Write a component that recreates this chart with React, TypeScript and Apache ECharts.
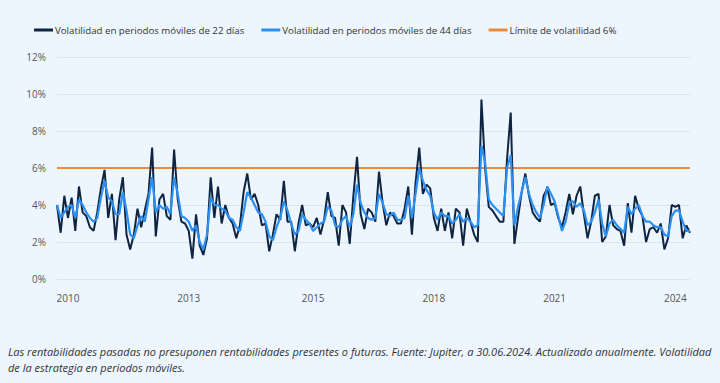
import React, { useEffect, useRef } from "react";
import * as echarts from "echarts";

const START_YEAR = 2010;
const MONTHS = 174; // Jan 2010 .. Jun 2024
const categories: string[] = [];
for (let k = 0; k < MONTHS; k++) {
  const y = START_YEAR + Math.floor(k / 12);
  const m = (k % 12) + 1;
  categories.push(`${y}-${m < 10 ? "0" + m : m}`);
}

const labelIndices = [3, 36, 70, 103, 136, 169];

const vol22 = [
  4.0, 2.5, 4.5, 3.3, 4.4, 2.6, 5.0, 3.6, 3.4, 2.8,
  2.6, 3.6, 4.9, 5.9, 3.3, 4.6, 2.1, 4.3, 5.5, 2.4,
  1.6, 2.4, 3.8, 2.8, 3.7, 4.6, 7.1, 2.3, 4.3, 4.6,
  3.4, 3.2, 7.0, 4.3, 3.1, 3.0, 2.6, 1.1, 3.5, 1.8,
  1.3, 2.2, 5.5, 3.3, 5.0, 3.0, 4.0, 3.3, 3.0, 2.2,
  2.9, 4.7, 5.7, 4.3, 4.6, 4.0, 2.9, 3.0, 1.5, 2.4,
  3.5, 3.2, 5.3, 3.1, 3.1, 1.5, 3.0, 4.0, 2.9, 3.0,
  2.8, 3.3, 2.4, 3.2, 4.7, 3.4, 3.3, 1.8, 4.0, 3.6,
  1.9, 4.5, 6.6, 3.5, 2.7, 3.8, 3.6, 3.1, 5.8, 4.1,
  2.9, 3.6, 3.4, 3.0, 3.0, 3.8, 5.0, 2.4, 5.2, 7.1,
  4.6, 5.1, 4.9, 3.3, 2.6, 3.8, 2.6, 3.6, 2.2, 3.8,
  3.6, 1.8, 3.8, 3.1, 2.4, 2.0, 9.7, 6.0, 3.9, 3.7,
  3.4, 3.1, 3.1, 6.5, 9.0, 1.9, 3.3, 4.7, 5.7, 4.5,
  3.6, 3.3, 3.1, 4.5, 4.9, 4.0, 4.1, 3.3, 2.8, 3.6,
  4.6, 3.5, 4.5, 5.0, 3.5, 2.2, 3.1, 4.5, 4.6, 2.0,
  2.3, 4.0, 2.9, 2.7, 2.6, 1.8, 4.1, 2.5, 4.5, 3.8,
  3.4, 2.0, 2.7, 2.8, 2.5, 3.0, 1.6, 2.2, 4.0, 3.9,
  4.0, 2.2, 2.9, 2.5,
];

const vol44 = [
  4.0, 3.3, 3.6, 3.9, 4.0, 3.3, 4.3, 4.0, 3.6, 3.3,
  3.1, 3.3, 4.4, 5.3, 4.4, 4.2, 3.5, 3.5, 4.7, 3.7,
  2.4, 2.2, 2.9, 3.4, 3.1, 4.3, 5.5, 3.6, 4.0, 3.8,
  3.9, 3.5, 5.5, 4.6, 3.4, 3.3, 3.1, 2.6, 2.9, 2.0,
  1.6, 2.4, 4.4, 4.0, 4.0, 3.8, 3.7, 3.3, 3.2, 2.8,
  2.6, 3.6, 4.7, 4.4, 4.0, 3.6, 3.5, 3.1, 2.3, 2.1,
  2.8, 3.3, 4.2, 3.7, 3.0, 2.4, 2.6, 3.5, 3.2, 3.0,
  2.6, 2.8, 3.0, 3.1, 3.9, 3.7, 2.9, 2.8, 3.2, 3.4,
  2.8, 3.5, 5.1, 4.1, 3.6, 3.3, 3.2, 3.3, 4.6, 4.1,
  3.5, 3.4, 3.6, 3.2, 3.2, 3.3, 4.5, 3.3, 4.6, 6.0,
  5.3, 4.8, 4.5, 3.6, 3.2, 3.6, 3.4, 3.4, 3.0, 3.2,
  3.5, 3.1, 3.3, 3.1, 2.8, 2.9, 7.2, 6.3, 4.3, 4.0,
  3.8, 3.6, 3.4, 6.0, 6.7, 2.9, 3.9, 4.7, 5.5, 4.6,
  4.0, 3.6, 3.3, 4.0, 5.0, 4.6, 4.2, 3.4, 2.6, 3.1,
  4.1, 4.2, 3.9, 4.1, 3.7, 2.9, 3.1, 3.6, 4.3, 3.0,
  2.3, 3.0, 3.2, 2.9, 2.7, 2.5, 3.9, 3.5, 3.8, 4.0,
  3.4, 3.1, 3.1, 2.9, 2.8, 2.8, 2.4, 2.3, 3.4, 3.7,
  3.7, 3.1, 2.6, 2.6,
];

const LIMIT = 6;
const limitLine = categories.map(() => LIMIT);

const seriesNames = [
  "Volatilidad en periodos móviles de 22 días",
  "Volatilidad en periodos móviles de 44 días",
  "Límite de volatilidad 6%",
];

const footnote1 =
  "Las rentabilidades pasadas no presuponen rentabilidades presentes o futuras. Fuente: Jupiter, a 30.06.2024. Actualizado anualmente. Volatilidad";
const footnote2 = "de la estrategia en periodos móviles.";

const FONT = "'Open Sans', 'DejaVu Sans', sans-serif";

export default function App() {
  const ref = useRef<HTMLDivElement>(null);
  useEffect(() => {
    if (!ref.current) return;
    const chart = echarts.init(ref.current, undefined, { renderer: "svg" });
    chart.setOption({
      animation: false,
      backgroundColor: "#EDF6FE",
      textStyle: { fontFamily: FONT },
      legend: {
        left: 29,
        top: 20,
        icon: "rect",
        itemWidth: 19,
        itemHeight: 3,
        itemGap: 17,
        textStyle: { color: "#333", fontSize: 9.7, fontFamily: FONT, padding: [0, 0, 0, -3] },
        data: seriesNames,
      },
      grid: { left: 57, right: 30, top: 57, bottom: 104 },
      xAxis: {
        type: "category",
        data: categories,
        boundaryGap: false,
        axisLine: { show: false },
        axisTick: { show: false },
        axisLabel: {
          color: "#555",
          fontSize: 10,
          margin: 14,
          interval: (index: number) => labelIndices.indexOf(index) >= 0,
          formatter: (v: string) => v.slice(0, 4),
        },
        splitLine: { show: false },
      },
      yAxis: {
        type: "value",
        min: 0,
        max: 12,
        interval: 2,
        axisLine: { show: false },
        axisTick: { show: false },
        axisLabel: { color: "#555", fontSize: 10, margin: 11, formatter: "{value}%" },
        splitLine: { lineStyle: { color: "#DCE5EE", width: 1 } },
      },
      series: [
        {
          name: seriesNames[0],
          type: "line",
          data: vol22,
          showSymbol: false,
          symbol: "none",
          z: 3,
          lineStyle: { color: "#0E2440", width: 2 },
          itemStyle: { color: "#0E2440" },
        },
        {
          name: seriesNames[1],
          type: "line",
          data: vol44,
          showSymbol: false,
          symbol: "none",
          z: 4,
          lineStyle: { color: "#2B8FF3", width: 2.2 },
          itemStyle: { color: "#2B8FF3" },
        },
        {
          name: seriesNames[2],
          type: "line",
          data: limitLine,
          showSymbol: false,
          symbol: "none",
          z: 2,
          lineStyle: { color: "#EA8A3D", width: 2 },
          itemStyle: { color: "#EA8A3D" },
        },
      ],
      graphic: [
        {
          type: "text",
          left: 8,
          top: 346,
          style: {
            text: footnote1,
            fill: "#333",
            font: `italic 11px ${FONT}`,
          },
        },
        {
          type: "text",
          left: 8,
          top: 362,
          style: {
            text: footnote2,
            fill: "#333",
            font: `italic 11px ${FONT}`,
          },
        },
      ],
    });
    return () => chart.dispose();
  }, []);
  return (
    <div
      ref={ref}
      style={{ position: "fixed", left: 0, top: 0, width: 720, height: 383 }}
    />
  );
}
